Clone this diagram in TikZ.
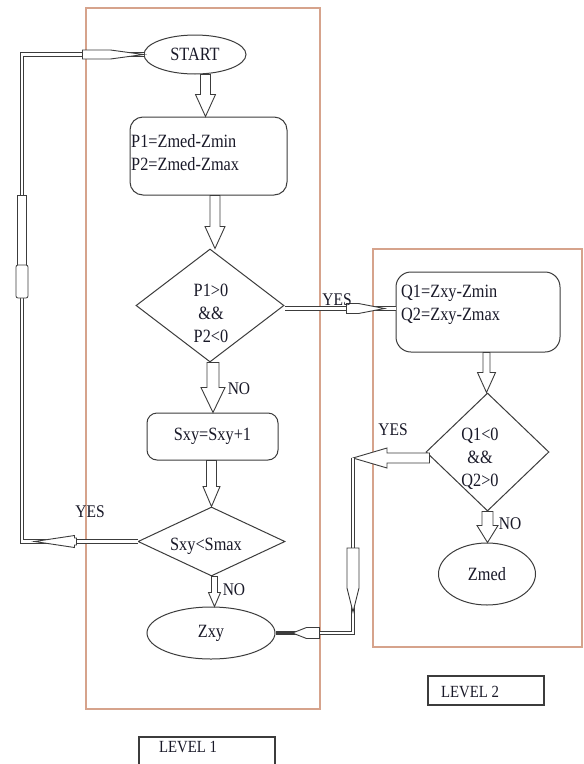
\documentclass[tikz,border=0pt]{standalone}
\usepackage{fontspec}
\setmainfont{Liberation Serif}
\usepackage{graphicx}
\usetikzlibrary{shapes.geometric,calc}
\definecolor{lc}{RGB}{60,60,60}
\definecolor{lvl}{RGB}{214,163,140}
\definecolor{tc}{RGB}{25,25,40}
\newcommand\vs[1]{\scalebox{1}[1.15]{#1}}
\tikzset{
  shp/.style={draw=lc, line width=1pt, inner sep=0pt, text=tc, font=\fontsize{16.3}{23}\selectfont},
  ell/.style={shp, ellipse},
  rbox/.style={shp, rectangle},
  dia/.style={shp, diamond},
  txt/.style={inner sep=0pt, text=tc, font=\fontsize{16.3}{23}\selectfont},
  lab/.style={inner sep=0pt, text=tc, font=\fontsize{15.5}{18}\selectfont},
  levtxt/.style={inner sep=0pt, text=tc, font=\fontsize{14.8}{18}\selectfont},
  lvlbox/.style={draw=lvl, line width=1.1pt},
  lbox/.style={draw=lc, line width=1.6pt, inner sep=0pt, rectangle},
  dline/.style={draw=lc, line width=0.8pt, double=white, double distance=2.8pt, line join=miter},
  barrowp/.style={draw=lc, fill=white, line width=0.9pt, line join=miter},
  dseg/.style={draw=lc, fill=white, line width=0.8pt}
}
% #1 from, #2 to, #3 shaft half width, #4 head half width, #5 head length (all in pt)
\newcommand\blockarrow[5]{%
  \coordinate (ba1) at (#1);
  \coordinate (ba2) at (#2);
  \draw[barrowp] ($(ba1)!#3pt!90:(ba2)$)
    -- ($(ba2)!#5pt!(ba1)!#3pt!-90:(ba1)$)
    -- ($(ba2)!#5pt!(ba1)!#4pt!-90:(ba1)$)
    -- (ba2)
    -- ($(ba2)!#5pt!(ba1)!#4pt!90:(ba1)$)
    -- ($(ba2)!#5pt!(ba1)!#3pt!90:(ba1)$)
    -- ($(ba1)!#3pt!-90:(ba2)$) -- cycle;%
}
\begin{document}
\begin{tikzpicture}[x=1pt,y=-1pt]
\clip (0,0) rectangle (584,764);
\fill[white] (0,0) rectangle (584,764);

% level frames
\draw[lvlbox] (86,8) rectangle (320,709);
\draw[lvlbox] (373,249) rectangle (582,647);

% level 1 nodes
\node[ell, minimum width=102, minimum height=39] (start) at (195,54.5) {\vs{START}};
\node[rbox, minimum width=157, minimum height=78, rounded corners=13pt] (p1) at (208.5,156) {};
\node[txt, anchor=west, align=left] (p1t) at (131,153) {\vs{P1=Zmed-Zmin}\\\vs{P2=Zmed-Zmax}};
\node[dia, minimum width=148, minimum height=113] (d1) at (210,305.5) {};
\node[txt, align=center] (d1t) at (211,313) {\vs{P1>0}\\\vs{\&\&}\\\vs{P2<0}};
\node[rbox, minimum width=131, minimum height=47, rounded corners=10pt] (sxy) at (212.5,436.5) {\vs{Sxy=Sxy+1}};
\node[dia, minimum width=147, minimum height=69] (d2) at (211.5,541.5) {};
\node[txt] (d2t) at (206,546) {\vs{Sxy<Smax}};
\node[ell, minimum width=128, minimum height=52] (zxy) at (211,633) {\vs{Zxy}};

% level 2 nodes
\node[rbox, minimum width=164, minimum height=80, rounded corners=15pt] (q1) at (478,312) {};
\node[txt, anchor=west, align=left] (q1t) at (401,305) {\vs{Q1=Zxy-Zmin}\\\vs{Q2=Zxy-Zmax}};
\node[dia, minimum width=123, minimum height=118] (dq) at (487.5,452) {};
\node[txt, align=center] (dqt) at (480,459) {\vs{Q1<0}\\\vs{\&\&}\\\vs{Q2>0}};
\node[ell, minimum width=97, minimum height=62] (zmed) at (487,574) {\vs{Zmed}};

% level labels
\node[lbox, minimum width=136, minimum height=40, anchor=north west] (l1) at (138,736) {};
\node[levtxt] (l1t) at (188,747) {\vs{LEVEL 1}};
\node[lbox, minimum width=116, minimum height=29, anchor=north west] (l2) at (427,675) {};
\node[levtxt] (l2t) at (470,692) {\vs{LEVEL 2}};

% main block arrows
\blockarrow{$(p1.north |- start.south)+(-3,0)$}{$(p1.north)+(-3,0)$}{5}{10}{22}
\blockarrow{$(d1.north |- p1.south)+(5,0)$}{$(d1.north)+(5,0)$}{5}{10}{22}
\blockarrow{$(d1.south)+(3,0)$}{$(d1.south |- sxy.north)+(3,0)$}{6}{12}{25}
\blockarrow{d2.north |- sxy.south}{d2.north}{5}{8.5}{20}
\blockarrow{$(d2.south)+(3,0)$}{$(d2.south |- zxy.north)+(3,0)$}{3}{6}{14}
\blockarrow{$(dq.north |- q1.south)+(-1,0)$}{$(dq.north)+(-1,0)$}{3.5}{9}{20}
\blockarrow{dq.south}{dq.south |- zmed.north}{5.5}{10.5}{17}

% YES: d1 -> q1
\coordinate (y1) at ($(d1.east)+(0,3)$);
\draw[dline] (y1) -- (q1.west |- y1);
\blockarrow{$(y1)+(62,0)$}{$(y1)+(100,0)$}{5}{5}{26}

% YES: d2 -> start (loop on the left)
\coordinate (lx) at (22,0);
\draw[dline] (d2.west) -- (d2.west -| lx) -- (start.west -| lx) -- (start.west);
\blockarrow{$(d2.west)+(-61,0)$}{$(d2.west)+(-103,0)$}{3.5}{6}{40}
\draw[dseg] (17.5,195) rectangle (26.5,265);
\draw[dseg, rounded corners=2pt] (16,265) rectangle (28,298);
\blockarrow{$(start.west)+(-61,0)$}{start.west}{4.5}{4.5}{33}

% YES: dq -> zxy (loop on the right)
\coordinate (cq) at (353,458);
\blockarrow{$(dq.west |- cq)+(4,0)$}{cq}{5}{10}{34}
\draw[dline] (cq) -- (cq |- zxy.east) -- (zxy.east);
\blockarrow{$(cq)+(0,90)$}{$(cq)+(0,154)$}{6}{6}{24}
\blockarrow{$(zxy.east)+(44,0)$}{$(zxy.east)+(17,0)$}{5.5}{5.5}{14}
\draw[lc, line width=2.5pt] ($(zxy.east)+(17,0)$) -- (zxy.east);

% branch labels
\node[lab] (yes1) at (337,300) {\vs{YES}};
\node[lab] (no1) at (239,389) {\vs{NO}};
\node[lab] (yes2) at (90,512) {\vs{YES}};
\node[lab] (no2) at (234,590) {\vs{NO}};
\node[lab] (yes3) at (393,430) {\vs{YES}};
\node[lab] (no3) at (510,524) {\vs{NO}};
\end{tikzpicture}
\end{document}
